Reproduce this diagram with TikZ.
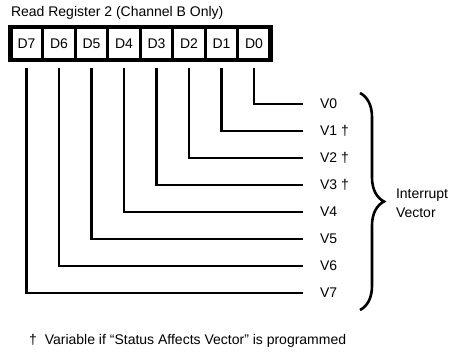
\documentclass[tikz,border=0pt]{standalone}
\usepackage{fontspec}
\setmainfont{Liberation Sans}
\usepackage{tikz}
\usetikzlibrary{positioning}
\usetikzlibrary{decorations.pathreplacing}

\begin{document}
\begin{tikzpicture}
[x=1pt,y=-1pt,font=\fontsize{14}{19}\selectfont,
  reg node/.style={rectangle,draw,line width=3pt,minimum width=32.5pt,minimum
    height=33pt, inner sep=0pt, outer sep=0pt},
  lbl node/.style={anchor=west,inner sep=2pt, outer sep=0pt},
  empt node/.style={inner sep=0pt,outer sep=0pt},
  wire/.style={line width=2.6pt,shorten <=8pt}]

    \useasboundingbox (0,0) rectangle (455,359);

    \node [empt node,anchor=west] (title) at (11,13) {Read Register 2 (Channel B Only)};

    % register cells
    \node [reg node] (d7) at (26.5,43.5) {D7};
    \node [reg node] (d6) [right=0pt of d7] {D6};
    \node [reg node] (d5) [right=0pt of d6] {D5};
    \node [reg node] (d4) [right=0pt of d5] {D4};
    \node [reg node] (d3) [right=0pt of d4] {D3};
    \node [reg node] (d2) [right=0pt of d3] {D2};
    \node [reg node] (d1) [right=0pt of d2] {D1};
    \node [reg node] (d0) [right=0pt of d1] {D0};
    \draw[line width=4.5pt] (d7.north west) rectangle (d0.south east);

    % vector bits
    \node [lbl node] (v0) at (318,104) {V0};
    \node [lbl node] (v1) at (318,131) {V1 †};
    \node [lbl node] (v2) at (318,158) {V2 †};
    \node [lbl node] (v3) at (318,185) {V3 †};
    \node [lbl node] (v4) at (318,212) {V4};
    \node [lbl node] (v5) at (318,239) {V5};
    \node [lbl node] (v6) at (318,266) {V6};
    \node [lbl node] (v7) at (318,293) {V7};

    \draw[wire] (d0.south) |- ([xshift=-15pt]v0.west);
    \draw[wire] (d1.south) |- ([xshift=-15pt]v1.west);
    \draw[wire] (d2.south) |- ([xshift=-15pt]v2.west);
    \draw[wire] (d3.south) |- ([xshift=-15pt]v3.west);
    \draw[wire] (d4.south) |- ([xshift=-15pt]v4.west);
    \draw[wire] (d5.south) |- ([xshift=-15pt]v5.west);
    \draw[wire] (d6.south) |- ([xshift=-15pt]v6.west);
    \draw[wire] (d7.south) |- ([xshift=-15pt]v7.west);

    % brace
    \coordinate (btop) at (360,93);
    \coordinate (bbot) at (360,310);
    \draw[line width=2.6pt,decorate,decoration={brace,amplitude=24pt}] (btop) -- (bbot);
    \node [lbl node,align=left] (iv) at (394,203) {Interrupt\\Vector};

    \node [empt node,anchor=west] (note) at (29,341) {†\hspace{8pt}Variable if ``Status Affects Vector'' is programmed};
\end{tikzpicture}
\end{document}
